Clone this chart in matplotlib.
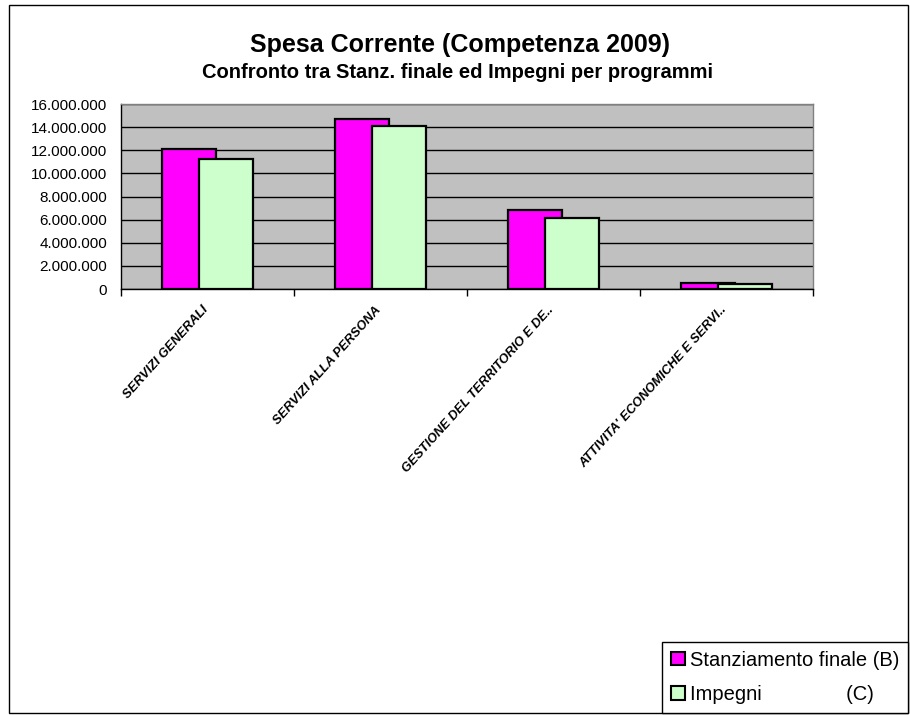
import matplotlib
matplotlib.use("Agg")
import matplotlib.pyplot as plt
from matplotlib.patches import Patch, Rectangle
from matplotlib.ticker import FuncFormatter, MultipleLocator
import matplotlib.transforms as mtransforms
import numpy as np

plt.rcParams['font.family'] = ['Liberation Sans', 'DejaVu Sans']

categories = ["SERVIZI GENERALI", "SERVIZI ALLA PERSONA",
              "GESTIONE DEL TERRITORIO E DE..", "ATTIVITA' ECONOMICHE E SERVI.."]
stanziamento = [12150000, 14720000, 6870000, 490000]
impegni = [11280000, 14090000, 6110000, 400000]
series_labels = ["Stanziamento finale (B)", "Impegni               (C)"]
title = "Spesa Corrente (Competenza 2009)"
subtitle = "Confronto tra Stanz. finale ed Impegni per programmi"

W, H = 910, 715
fig = plt.figure(figsize=(W / 100, H / 100), dpi=100)

# outer border
fig.patches.append(Rectangle((9 / W, 1 - 713 / H), (908 - 9) / W, (713 - 5) / H,
                             transform=fig.transFigure, fill=False,
                             edgecolor='black', linewidth=1.0))

left, right, top, bottom = 121, 813, 104, 289
ax = fig.add_axes([left / W, 1 - bottom / H, (right - left) / W, (bottom - top) / H])
ax.set_facecolor('#C0C0C0')

x = np.arange(len(categories))
bw = 0.311
off = 0.109
ax.bar(x - off, stanziamento, width=bw, color='#FF00FF', edgecolor='black',
       linewidth=1.6, zorder=3)
ax.bar(x + off, impegni, width=bw, color='#CCFFCC', edgecolor='black',
       linewidth=1.6, zorder=4)

ax.set_xlim(-0.5, len(categories) - 0.5)
ax.set_ylim(0, 16000000)
ax.yaxis.set_major_locator(MultipleLocator(2000000))
ax.yaxis.set_major_formatter(FuncFormatter(lambda v, p: f"{int(v):,}".replace(",", ".")))
ax.grid(axis='y', color='black', linewidth=1.0, zorder=1)
ax.set_axisbelow(True)
ax.tick_params(axis='y', length=0, pad=10, labelsize=11)

ax.set_xticks(np.arange(len(categories) + 1) - 0.5)
ax.set_xticklabels([])
ax.tick_params(axis='x', length=5, width=1, direction='out', color='black')

for s in ['top', 'right']:
    ax.spines[s].set_color('#808080')
    ax.spines[s].set_linewidth(1.0)
for s in ['left', 'bottom']:
    ax.spines[s].set_color('black')
    ax.spines[s].set_linewidth(1.0)

# category labels
for i, c in enumerate(categories):
    trans = mtransforms.blended_transform_factory(ax.transData, ax.transAxes) + \
        mtransforms.ScaledTranslation(-6 / 100, -15 / 100, fig.dpi_scale_trans)
    ax.text(i, 0, c, transform=trans, rotation=48, rotation_mode='anchor',
            ha='right', va='top', fontsize=9.3, fontweight='bold', fontstyle='italic')

fig.text(0.5 * (248 + 673) / W, 1 - 45 / H, title, ha='center', va='center',
         fontsize=18, fontweight='bold')
fig.text(0.5 * (200 + 715) / W, 1 - 73 / H, subtitle, ha='center', va='center',
         fontsize=14.5, fontweight='bold')

handles = [Patch(facecolor='#FF00FF', edgecolor='black', linewidth=1.5),
           Patch(facecolor='#CCFFCC', edgecolor='black', linewidth=1.5)]
leg = fig.legend(handles, series_labels, loc='lower right',
                 bbox_to_anchor=(908 / W, 1 - 713 / H), borderaxespad=0,
                 frameon=True, fancybox=False, edgecolor='black', framealpha=1,
                 fontsize=14.5, handlelength=0.65, handleheight=0.65,
                 handletextpad=0.25, labelspacing=0.75, borderpad=0.45)
leg.get_frame().set_linewidth(1.0)

fig.savefig("out.png", dpi=100)
